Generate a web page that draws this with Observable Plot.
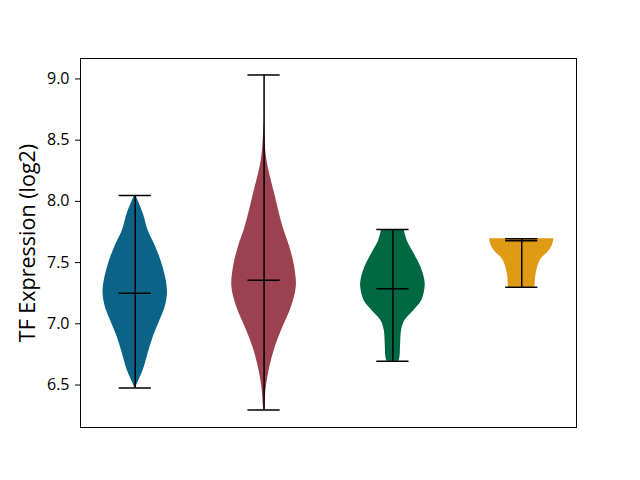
<!DOCTYPE html>
<html>
<head>
<meta charset="utf-8">
<script src="https://cdn.jsdelivr.net/npm/d3@7"></script>
<script src="https://cdn.jsdelivr.net/npm/@observablehq/plot@0.6"></script>
<style>
  html, body { margin: 0; padding: 0; background: #fff; }
  #chart { width: 640px; height: 480px; }
</style>
</head>
<body>
<div id="chart"></div>
<script>
// Groups and colours
const groups = ["G1", "G2", "G3", "G4"];
const positions = [1, 2, 3, 4];
const colors = ["#0b6387", "#9b4150", "#006843", "#e09b14"];

// Summary stats
const mins = [6.476, 6.296, 6.695, 7.298];
const maxs = [8.047, 9.033, 7.770, 7.695];
const medians = [7.249, 7.355, 7.287, 7.678];

// Density profiles (relative width, max = 1) at given values
const blueY = [8.047, 7.898, 7.762, 7.626, 7.491, 7.355, 7.247, 7.138, 7.029, 6.893, 6.758, 6.622, 6.486, 6.476];
const blueD = [0.02, 0.25, 0.40, 0.64, 0.83, 0.96, 1.0, 0.93, 0.77, 0.56, 0.40, 0.25, 0.03, 0.02];

const maroonY = [9.033, 8.604, 8.332, 8.061, 7.789, 7.626, 7.463, 7.301, 7.138, 6.975, 6.812, 6.649, 6.486, 6.323, 6.296];
const maroonD = [0.0, 0.01, 0.09, 0.33, 0.59, 0.80, 0.95, 1.0, 0.85, 0.59, 0.35, 0.18, 0.07, 0.02, 0.01];

const greenY = [7.770, 7.681, 7.572, 7.463, 7.355, 7.301, 7.192, 7.111, 7.029, 6.948, 6.840, 6.731, 6.695];
const greenD = [0.35, 0.44, 0.66, 0.87, 0.99, 1.0, 0.90, 0.66, 0.38, 0.27, 0.24, 0.22, 0.19];

const orangeY = [7.695, 7.640, 7.586, 7.532, 7.477, 7.396, 7.298];
const orangeD = [1.0, 0.95, 0.82, 0.61, 0.51, 0.44, 0.41];

const yTicks = [6.5, 7.0, 7.5, 8.0, 8.5, 9.0];
const yLabel = "TF Expression (log2)";

const profiles = [[blueY, blueD], [maroonY, maroonD], [greenY, greenD], [orangeY, orangeD]];
const halfWidth = 0.25;
const capHalf = 0.125;

const violinRows = [];
profiles.forEach(([ys, ds], i) => {
  ys.forEach((v, j) => violinRows.push({group: groups[i], pos: positions[i], value: v, density: ds[j]}));
});

const stats = groups.map((g, i) => ({group: g, pos: positions[i], min: mins[i], max: maxs[i], median: medians[i]}));
const caps = [];
stats.forEach(s => { caps.push({pos: s.pos, v: s.min}); caps.push({pos: s.pos, v: s.max}); caps.push({pos: s.pos, v: s.median}); });

const plot = Plot.plot({
  width: 640,
  height: 480,
  marginLeft: 80,
  marginRight: 64,
  marginTop: 58,
  marginBottom: 53,
  style: {fontFamily: "'Open Sans', sans-serif", background: "#fff"},
  x: {domain: [0.575, 4.425], axis: null},
  y: {domain: [6.153, 9.167]},
  color: {domain: groups, range: colors},
  marks: [
    Plot.areaX(violinRows, {
      y: "value",
      x1: d => d.pos - halfWidth * d.density,
      x2: d => d.pos + halfWidth * d.density,
      fill: "group",
      z: "group",
      curve: "catmull-rom",
      fillOpacity: 1
    }),
    Plot.ruleX(stats, {x: "pos", y1: "min", y2: "max", stroke: "black", strokeWidth: 1.5}),
    Plot.ruleY(caps, {y: "v", x1: d => d.pos - capHalf, x2: d => d.pos + capHalf, stroke: "black", strokeWidth: 1.5}),
    Plot.frame({stroke: "black", strokeWidth: 1}),
    Plot.axisY({ticks: yTicks, tickFormat: d => d.toFixed(1), tickSize: 5, tickPadding: 6, fontSize: 16, label: null, stroke: "black", color: "black"}),
    Plot.text([yLabel], {frameAnchor: "left", rotate: -90, dx: -52, fontSize: 21.5, textAnchor: "middle", lineAnchor: "middle", fill: "black"})
  ]
});
document.getElementById("chart").appendChild(plot);
</script>
</body>
</html>
